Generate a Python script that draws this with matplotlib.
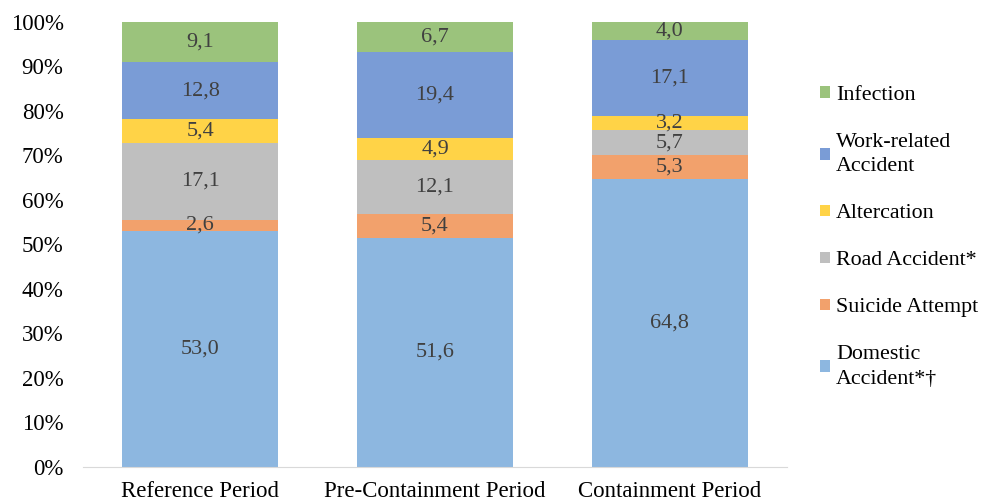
import matplotlib.pyplot as plt
import numpy as np

periods = ["Reference Period", "Pre-Containment Period", "Containment Period"]

# bottom to top
causes = ["Domestic\nAccident*†", "Suicide Attempt", "Road Accident*",
          "Altercation", "Work-related\nAccident", "Infection"]
domestic = [53.0, 51.6, 64.8]
suicide = [2.6, 5.4, 5.3]
road = [17.1, 12.1, 5.7]
altercation = [5.4, 4.9, 3.2]
work = [12.8, 19.4, 17.1]
infection = [9.1, 6.7, 4.0]

colors = ["#8DB7E0", "#F2A16C", "#BFBFBF", "#FFD347", "#7A9CD6", "#9BC37C"]

plt.rcParams["font.family"] = ["Liberation Serif", "DejaVu Serif"]

series = np.array([domestic, suicide, road, altercation, work, infection])
totals = series.sum(axis=0)
shares = series / totals * 100

fig = plt.figure(figsize=(9.87, 5.03), dpi=100)
ax = fig.add_axes([0.0841, 0.0716, 0.7133, 0.8847])

x = np.arange(len(periods))
bottom = np.zeros(len(periods))
handles = []
for vals, share, name, col in zip(series, shares, causes, colors):
    bars = ax.bar(x, share, width=0.664, bottom=bottom, color=col, label=name)
    handles.append(bars)
    for xi, b, s, v in zip(x, bottom, share, vals):
        ax.text(xi, b + s / 2, f"{v:.1f}".replace(".", ","), ha="center",
                va="center", fontsize=16, color="#404040")
    bottom += share

ax.set_xlim(-0.5, 2.5)
ax.set_ylim(0, 100)
ax.set_yticks(np.arange(0, 101, 10))
ax.set_yticklabels([f"{t}%" for t in range(0, 101, 10)])
ax.set_xticks(x)
ax.set_xticklabels(periods)
ax.tick_params(axis="both", length=0, labelsize=16.5)
ax.tick_params(axis="y", pad=14)
ax.tick_params(axis="x", pad=10)
for side in ["left", "right", "top"]:
    ax.spines[side].set_visible(False)
ax.spines["bottom"].set_color("#D9D9D9")

leg = fig.legend(handles[::-1], causes[::-1], loc="upper left",
                 bbox_to_anchor=(0.831, 0.829), frameon=False, fontsize=15.8,
                 borderpad=0, borderaxespad=0, handlelength=0.45,
                 handleheight=0.45, handletextpad=0.27, labelspacing=1.28)
for t in leg.get_texts():
    t.set_linespacing(1.36)

fig.savefig("out.png", dpi=100)
